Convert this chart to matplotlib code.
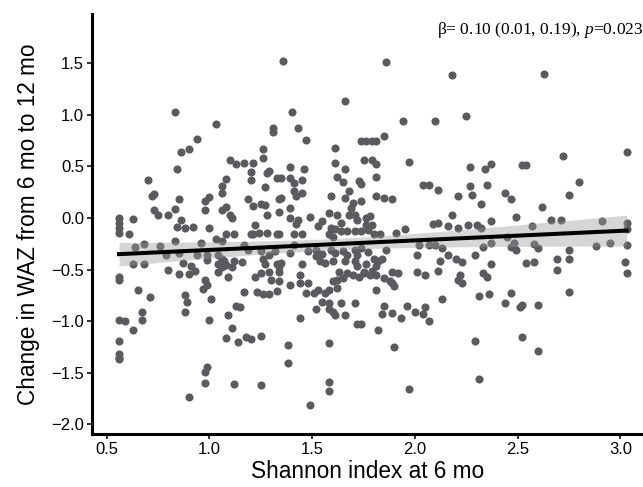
import numpy as np
import matplotlib
matplotlib.use("Agg")
import matplotlib.pyplot as plt

plt.rcParams['font.family'] = ['Liberation Sans', 'DejaVu Sans']
plt.rcParams['mathtext.fontset'] = 'custom'
plt.rcParams['mathtext.rm'] = 'Liberation Serif'
plt.rcParams['mathtext.it'] = 'Liberation Serif:italic'

# Shannon index at 6 mo (x) and change in WAZ 6-12 mo (y)
shannon = [
    0.83, 1.03, 0.94, 0.90, 0.86, 1.31, 1.31, 1.26, 1.26, 1.10, 1.13, 1.17, 1.21,
    1.36, 1.86, 2.18, 1.66, 1.40, 1.94, 2.10, 1.43, 1.47, 1.61, 1.85, 1.74, 1.76, 1.79, 1.81,
    1.61, 1.75, 1.79, 1.81, 1.97, 1.39, 1.46, 1.66,
    2.63, 2.25, 3.03, 2.72, 2.37, 2.27, 2.34, 2.52, 2.54,
    0.84, 0.70, 0.73, 0.72, 0.85, 0.83, 0.80, 0.73, 0.75, 0.56, 0.56, 0.56, 0.56, 0.63, 0.61,
    0.86, 0.84, 0.88, 0.92, 1.00, 0.98, 1.00, 0.98, 1.06, 1.08, 1.10, 1.11, 1.06, 1.06, 1.08,
    1.20, 1.20, 1.29, 1.28, 1.33, 1.27, 1.19, 1.21, 1.25, 1.27, 1.34, 1.28, 1.22, 1.20, 1.21,
    1.24, 1.28, 1.33, 1.08, 1.12, 1.03, 1.06, 0.83, 0.64, 0.68, 0.76, 0.96, 1.17, 0.79, 0.85,
    0.94, 0.99, 0.99, 1.04, 1.06, 1.07, 1.04, 1.06, 1.04, 1.08, 1.12, 1.16, 1.11, 1.19, 1.25,
    1.29, 1.32, 1.26, 1.27, 1.29, 1.33, 1.25, 1.22, 1.30, 0.63, 0.68, 0.80, 0.85, 0.90, 0.93,
    0.87, 0.91, 0.56, 0.56, 0.65, 0.98, 0.99, 0.97, 1.09, 1.17, 1.23, 1.29, 1.33,
    1.35, 1.39, 1.41, 1.45, 1.62, 1.65, 1.73, 1.74, 1.81, 2.04, 2.07, 2.11, 2.21, 1.35, 1.34,
    1.39, 1.41, 1.45, 1.42, 1.39, 1.42, 1.43, 1.49, 1.59, 1.68, 1.70, 1.66, 1.74, 1.81, 1.85,
    1.89, 1.69, 1.71, 1.68, 1.72, 1.76, 1.78, 1.53, 1.55, 1.58, 1.62, 1.64, 1.59, 1.61, 1.64,
    1.67, 1.76, 1.79, 1.74, 1.77, 1.71, 1.41, 1.45, 1.34, 1.58, 1.60, 1.80, 1.83, 1.91, 1.95,
    2.09, 2.11, 2.18, 2.16, 2.21, 2.02, 2.07, 2.10, 2.13, 2.01, 2.12, 2.16, 2.01, 2.05, 2.11,
    1.86, 1.41, 1.39, 1.35, 1.34, 1.34, 1.48, 1.45, 1.44, 1.52, 1.52, 1.56, 1.55, 1.54, 1.59,
    1.61, 1.60, 1.65, 1.67, 1.63, 1.67, 1.65, 1.71, 1.72, 1.74, 1.77, 1.71, 1.72, 1.76, 1.75,
    1.80, 1.82, 1.84, 1.81, 1.79, 1.81, 1.78, 1.70, 1.73, 1.75, 1.85, 1.88, 1.89, 1.92, 1.66,
    1.48, 1.53, 1.58, 1.62, 1.60, 1.62, 1.34, 1.39, 1.44, 1.81, 1.89, 1.90, 1.47, 1.51,
    2.80, 2.27, 2.35, 2.28, 2.44, 2.47, 2.75, 2.32, 2.62, 2.49, 2.37, 2.66, 2.71, 2.91, 2.26,
    2.30, 2.32, 2.57, 3.03, 3.03, 2.45, 2.37, 2.33, 2.48, 2.47, 2.49, 2.58, 2.60, 2.88, 2.95,
    3.03, 2.75, 2.29, 2.20, 2.23, 2.37, 2.54, 2.58, 2.69, 2.75, 3.02, 2.69, 3.03, 2.33, 2.35,
    2.22, 2.21, 2.23,
    0.71, 0.88, 0.89, 0.88, 1.01, 1.00, 1.26, 0.56, 0.59, 0.67, 0.67, 0.63, 0.56, 0.56, 0.56,
    0.56, 1.09, 1.13, 1.15, 1.11, 1.08, 1.14, 1.18, 1.20, 1.25, 0.99, 0.98, 0.98, 1.12, 1.25,
    0.90,
    1.56, 1.55, 1.58, 1.64, 1.71, 1.52, 1.58, 1.60, 1.61, 1.66, 1.44, 1.72, 1.74, 1.85, 1.84,
    1.89, 1.93, 1.96, 2.00, 2.05, 2.04, 2.07, 2.13, 1.82, 1.38, 1.58, 1.90, 1.38, 1.58, 1.58,
    1.97, 1.49,
    2.31, 2.36, 2.47, 2.44, 2.51, 2.52, 2.60, 2.75, 2.29, 2.52, 2.60, 2.31,
]
waz_change = [
    1.03, 0.91, 0.77, 0.67, 0.64, 0.87, 0.83, 0.67, 0.58, 0.56, 0.52, 0.53, 0.53,
    1.52, 1.51, 1.39, 1.13, 1.03, 0.94, 0.94, 0.87, 0.76, 0.68, 0.79, 0.75, 0.75, 0.75, 0.75,
    0.53, 0.56, 0.56, 0.52, 0.54, 0.49, 0.47, 0.47,
    1.40, 0.99, 0.64, 0.60, 0.52, 0.49, 0.47, 0.51, 0.51,
    0.47, 0.37, 0.23, 0.21, 0.18, 0.09, 0.03, 0.08, 0.03, 0.00, -0.05, -0.10, -0.15, -0.01, -0.16,
    -0.02, -0.09, -0.10, -0.09, -0.10, 0.16, 0.20, 0.08, 0.08, 0.11, 0.03, 0.00, 0.31, 0.24, 0.38,
    0.45, 0.37, 0.46, 0.44, 0.39, 0.30, 0.18, 0.12, 0.14, 0.13, 0.18, 0.03, -0.07, -0.16, -0.16,
    -0.15, -0.15, -0.16, -0.16, -0.16, -0.20, -0.22, -0.22, -0.28, -0.25, -0.27, -0.24, -0.26, -0.36, -0.34,
    -0.36, -0.36, -0.41, -0.36, -0.40, -0.42, -0.45, -0.48, -0.52, -0.46, -0.42, -0.43, -0.48, -0.31, -0.32,
    -0.36, -0.32, -0.40, -0.45, -0.52, -0.45, -0.53, -0.57, -0.60, -0.45, -0.45, -0.50, -0.54, -0.54, -0.51,
    -0.44, -0.47, -0.57, -0.60, -0.70, -0.60, -0.65, -0.69, -0.57, -0.72, -0.72, -0.74, -0.71,
    0.39, 0.39, 0.34, 0.37, 0.40, 0.35, 0.36, 0.33, 0.40, 0.32, 0.32, 0.27, 0.21, 0.19, 0.06,
    0.10, 0.26, 0.24, 0.21, 0.00, -0.06, -0.02, 0.01, 0.21, 0.26, 0.15, 0.19, 0.16, 0.21, 0.19,
    0.18, 0.10, 0.03, 0.03, -0.02, 0.00, 0.02, -0.08, -0.03, 0.05, 0.03, -0.05, -0.10, -0.11, -0.13,
    -0.13, -0.07, -0.07, -0.13, -0.12, -0.13, -0.16, -0.16, -0.16, -0.16, -0.18, -0.16, -0.16, -0.15, -0.11,
    -0.06, -0.05, 0.03, -0.08, -0.10, -0.26, -0.26, -0.26, -0.29, -0.36, -0.42, -0.36, -0.52, -0.55, -0.51,
    -0.31, -0.26, -0.34, -0.44, -0.48, -0.52, -0.32, -0.45, -0.55, -0.31, -0.37, -0.44, -0.35, -0.42, -0.31,
    -0.34, -0.42, -0.32, -0.36, -0.52, -0.53, -0.58, -0.31, -0.36, -0.29, -0.33, -0.42, -0.47, -0.45, -0.52,
    -0.40, -0.42, -0.40, -0.47, -0.51, -0.55, -0.55, -0.55, -0.57, -0.53, -0.58, -0.61, -0.52, -0.53, -0.42,
    -0.63, -0.70, -0.70, -0.68, -0.61, -0.60, -0.61, -0.65, -0.63, -0.70, -0.63, -0.66, -0.73, -0.73,
    0.35, 0.31, 0.32, 0.22, 0.24, 0.18, 0.22, 0.14, 0.11, 0.01, -0.03, -0.02, -0.02, -0.03, -0.07,
    -0.07, -0.10, -0.08, -0.05, -0.11, -0.18, -0.24, -0.28, -0.24, -0.28, -0.31, -0.25, -0.29, -0.27, -0.24,
    -0.26, -0.31, -0.36, -0.40, -0.43, -0.45, -0.44, -0.43, -0.40, -0.40, -0.43, -0.50, -0.53, -0.53, -0.57,
    -0.55, -0.60, -0.63,
    -0.77, -0.75, -0.81, -0.91, -0.79, -0.99, -0.74, -0.99, -1.00, -0.91, -0.99, -1.09, -1.19, -1.32, -1.36,
    -1.37, -0.94, -0.85, -0.86, -1.07, -1.16, -1.20, -1.15, -1.17, -1.14, -1.44, -1.49, -1.60, -1.61, -1.62,
    -1.74,
    -0.73, -0.81, -0.82, -0.82, -0.82, -0.88, -0.88, -0.91, -0.94, -0.94, -0.97, -1.03, -1.03, -0.85, -0.93,
    -0.92, -0.97, -0.85, -0.91, -0.86, -0.93, -1.00, -0.79, -1.09, -1.23, -1.21, -1.25, -1.41, -1.59, -1.68,
    -1.66, -1.81,
    -0.76, -0.74, -0.73, -0.82, -0.86, -0.84, -0.84, -0.72, -1.19, -1.15, -1.29, -1.56,
]
x_ticks = [0.5, 1.0, 1.5, 2.0, 2.5, 3.0]
y_ticks = [-2.0, -1.5, -1.0, -0.5, 0.0, 0.5, 1.0, 1.5]
annot = r"β= 0.10 (0.01, 0.19), $p$=0.023"

x = np.array(shannon)
y = np.array(waz_change)

# linear fit with 95% confidence band (like geom_smooth(method = "lm"))
n = len(x)
slope, intercept = np.polyfit(x, y, 1)
resid = y - (intercept + slope * x)
s = np.sqrt(np.sum(resid ** 2) / (n - 2))
xs = np.linspace(x.min(), x.max(), 100)
ys = intercept + slope * xs
se = s * np.sqrt(1.0 / n + (xs - x.mean()) ** 2 / np.sum((x - x.mean()) ** 2))
ci = 1.965 * se

fig = plt.figure(figsize=(6.43, 4.87), dpi=100)
ax = fig.add_axes([0.1426, 0.1082, 0.8574, 0.863])

ax.scatter(x, y, s=34, color='#5b5b5f', linewidths=0, zorder=2)
ax.fill_between(xs, ys - ci, ys + ci, color='#999999', alpha=0.4, linewidth=0, zorder=3)
ax.plot(xs, ys, color='black', linewidth=2.9, zorder=4)

ax.set_xlim(0.427, 3.11)
ax.set_ylim(-2.097, 1.977)
ax.set_xticks(x_ticks)
ax.set_yticks(y_ticks)
ax.set_xticklabels([f"{v:.1f}" for v in x_ticks])
ax.set_yticklabels([f"{v:.1f}".replace('-', '\u2212') for v in y_ticks])

for side in ['top', 'right']:
    ax.spines[side].set_visible(False)
for side in ['left', 'bottom']:
    ax.spines[side].set_linewidth(2.2)
ax.tick_params(axis='both', length=3.5, width=1.4, color='#333333', labelsize=12, labelcolor='black', pad=2)

ax.set_xlabel("Shannon index at 6 mo", fontsize=16.3, labelpad=2)
ax.set_ylabel("Change in WAZ from 6 mo to 12 mo", fontsize=16.3, labelpad=8)

fig.text(1.0, 1 - 30 / 487, annot, ha='right', va='center', fontsize=12.5,
         family='Liberation Serif')

fig.savefig("out.png", dpi=100)
